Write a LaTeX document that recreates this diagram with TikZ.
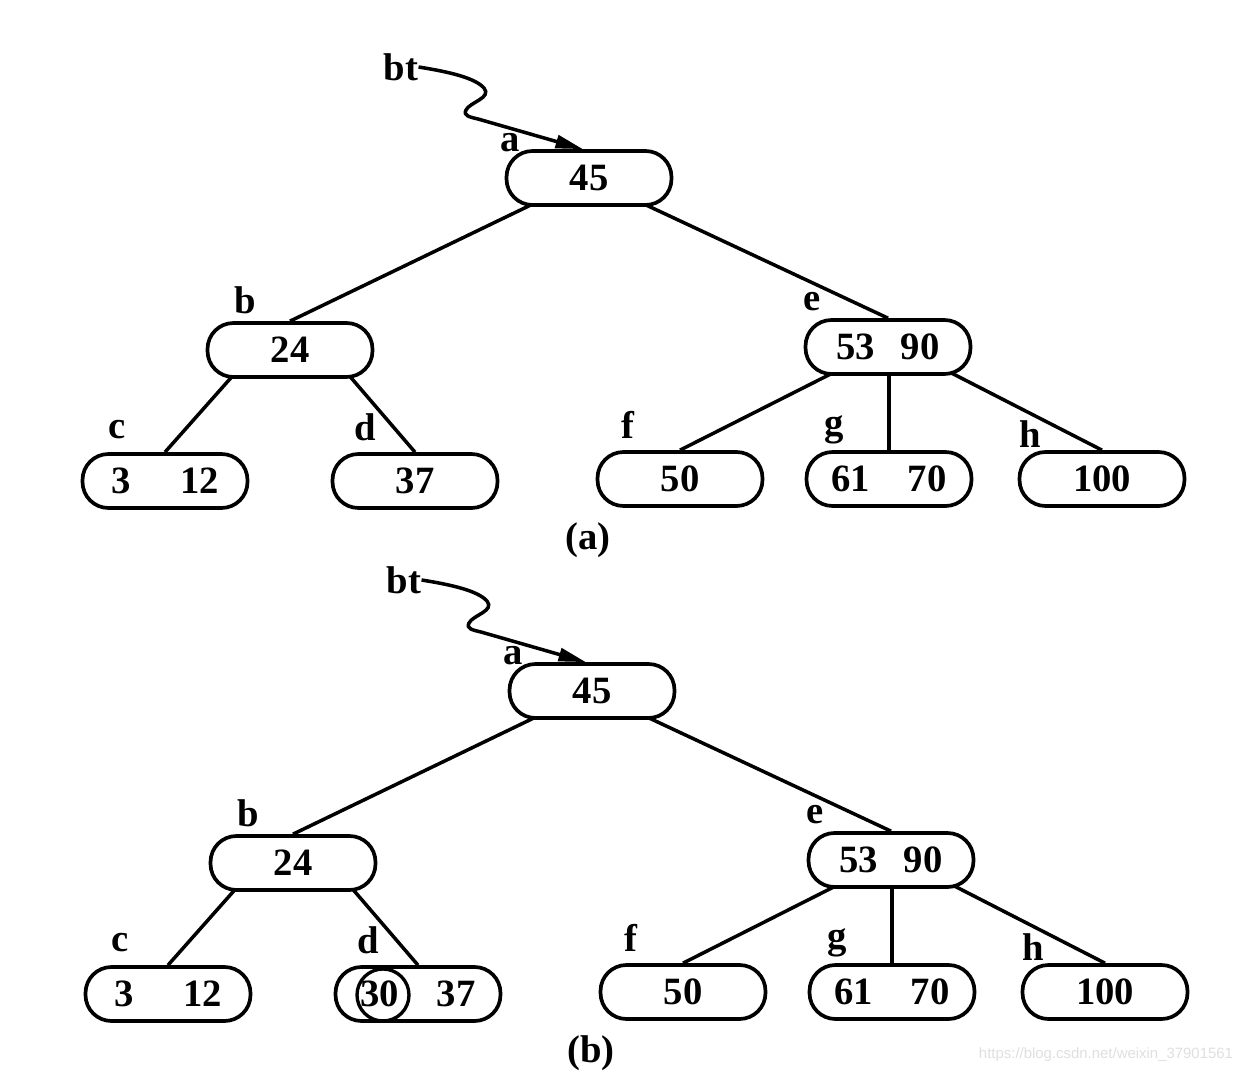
\documentclass[tikz,border=0pt]{standalone}
\usepackage{fontspec}
\setmainfont{Liberation Serif}
\newfontfamily\wmfont{Liberation Sans}
\usetikzlibrary{calc,arrows.meta}
\pgfdeclarelayer{bg}
\pgfsetlayers{bg,main}
\tikzset{
  keybox/.style={draw, line width=2.1pt, rectangle, rounded corners=0.52cm,
    minimum width=3.3cm, minimum height=1.08cm, fill=white, inner sep=0pt,
    font=\fontsize{22}{25}\selectfont\bfseries},
  lbl/.style={font=\fontsize{22}{25}\selectfont\bfseries, inner sep=0pt},
  treeedge/.style={line width=2pt},
  ptr/.style={line width=2pt, -{Triangle[length=0.55cm,width=0.26cm]}},
  ring/.style={draw, circle, line width=1.9pt, minimum size=1.04cm, inner sep=0pt},
}
\newcommand\mytree[4]{%
  \begin{scope}[shift={#2}]
    \node[keybox] (#1a) at (589,178) {45};
    \node[keybox] (#1b) at (290,350) {24};
    \node[keybox] (#1c) at (165,481) {3\hspace{1.0cm}12};
    \node[keybox] (#1d) at (415,481) {#3};
    \node[keybox] (#1e) at (888,347) {53\hspace{0.52cm}90};
    \node[keybox] (#1f) at (680,479) {50};
    \node[keybox] (#1g) at (889,479) {61\hspace{0.76cm}70};
    \node[keybox] (#1h) at (1102,479) {100};
    \node[lbl] (#1la) at (510,143) {a};
    \node[lbl] (#1lb) at (245,300) {b};
    \node[lbl] (#1lc) at (117,430) {c};
    \node[lbl] (#1ld) at (365,427) {d};
    \node[lbl] (#1le) at (812,302) {e};
    \node[lbl] (#1lf) at (628,425) {f};
    \node[lbl] (#1lg) at (834,430) {g};
    \node[lbl] (#1lh) at (1030,434) {h};
    \node[lbl] (#1bt) at (401,67) {bt};
    \node[lbl] (#1cap) at (588,540) {#4};
    \coordinate (#1pab) at ($(#1a.south)+(-62,0)$);
    \coordinate (#1pae) at ($(#1a.south)+(61,0)$);
    \coordinate (#1pbc) at ($(#1b.south)+(-60,0)$);
    \coordinate (#1pbd) at ($(#1b.south)+(62,0)$);
    \coordinate (#1pef) at ($(#1e.south)+(-61,0)$);
    \coordinate (#1peg) at ($(#1e.south)+(1,0)$);
    \coordinate (#1peh) at ($(#1e.south)+(65,-2)$);
    \coordinate (#1tip) at ($(#1a.north)+(-6,0)$);
    \begin{pgfonlayer}{bg}
      \draw[treeedge] (#1b.north) -- ($(#1b.north)!1.08!(#1pab)$);
      \draw[treeedge] (#1e.north) -- ($(#1e.north)!1.08!(#1pae)$);
      \draw[treeedge] (#1c.north) -- ($(#1c.north)!1.12!(#1pbc)$);
      \draw[treeedge] (#1d.north) -- ($(#1d.north)!1.12!(#1pbd)$);
      \draw[treeedge] (#1f.north) -- ($(#1f.north)!1.1!(#1pef)$);
      \draw[treeedge] (#1g.north) -- ($(#1g.north)!1.2!(#1peg)$);
      \draw[treeedge] (#1h.north) -- ($(#1h.north)!1.1!(#1peh)$);
    \end{pgfonlayer}
    \draw[ptr] (#1bt.east) .. controls (450,72) and (475,78) .. (484,88)
      .. controls (492,98) and (470,102) .. (466,110)
      .. controls (463,116) and (470,117) .. (478,119) -- (#1tip);
  \end{scope}}
\begin{document}
\begin{tikzpicture}[x=0.02cm,y=-0.02cm]
  \useasboundingbox (0,0) rectangle (1250,1074);
  \mytree{A}{(0,0)}{37}{(a)}
  \mytree{B}{(3,513)}{30\hspace{0.76cm}37}{(b)}
  \node[ring] (Bring) at ($(Bd.center)+(-35,1)$) {};
  \node[font=\wmfont\fontsize{8.5}{10}\selectfont, text=gray!25, inner sep=0pt] (wm) at (1106,1055) {https://blog.csdn.net/weixin\_37901561};
\end{tikzpicture}
\end{document}
